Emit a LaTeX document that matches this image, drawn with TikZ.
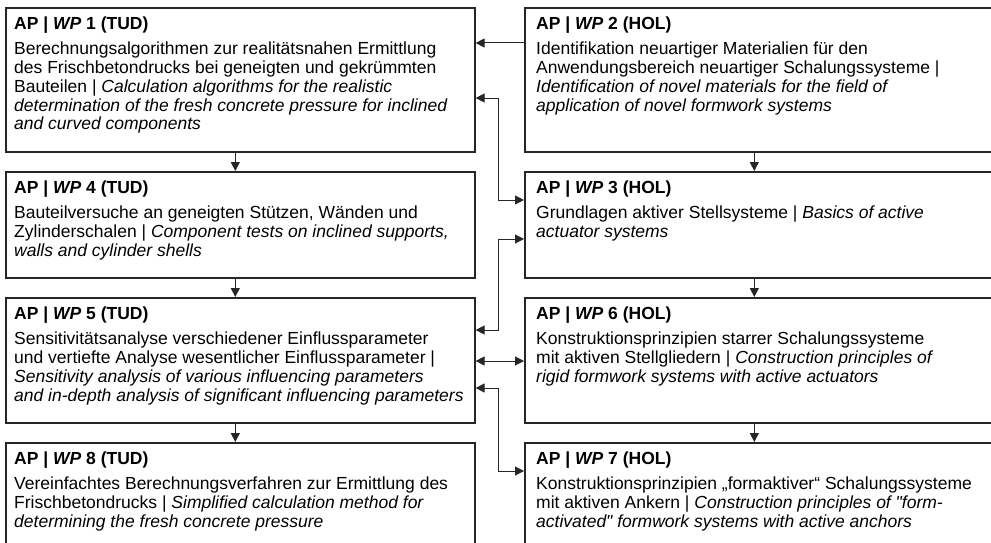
\documentclass[tikz,border=0pt]{standalone}
\usepackage{fontspec}
\setmainfont{Liberation Sans}[Ligatures=TeXOff]
\usetikzlibrary{arrows.meta, calc, positioning}
\tikzset{
  wpbox/.style={
    rectangle, draw=black!85, line width=1.6pt, anchor=north west,
    minimum width=469pt, inner sep=0pt
  },
  wptext/.style={
    anchor=north west, align=left, inner sep=0pt, text=black,
    font=\fontsize{17.5}{18.8}\selectfont
  },
  arrow/.style={
    -{Triangle[length=9pt,width=9pt]}, line width=1pt, color=black!85
  },
  both/.style={
    {Triangle[length=9pt,width=9pt]}-{Triangle[length=9pt,width=9pt]},
    line width=1pt, color=black!85
  }
}
\newcommand{\wptitle}[2]{\textbf{AP | \textit{WP} #1 (#2)}\\[6pt]}

\begin{document}
\begin{tikzpicture}[x=1pt, y=-1pt]
  \useasboundingbox (0,0) rectangle (991,543);
  \clip (0,0) rectangle (991,543);

  % Work package boxes, left column (TUD)
  \node[wpbox, minimum height=144pt] (wp1) at (5,7) {};
  \node[wpbox, minimum height=106pt] (wp4) at (5,171) {};
  \node[wpbox, minimum height=125pt] (wp5) at (5,297) {};
  \node[wpbox, minimum height=130pt] (wp8) at (5,442) {};

  % Work package boxes, right column (HOL)
  \node[wpbox, minimum height=144pt] (wp2) at (524,7) {};
  \node[wpbox, minimum height=106pt] (wp3) at (524,171) {};
  \node[wpbox, minimum height=125pt] (wp6) at (524,297) {};
  \node[wpbox, minimum height=130pt] (wp7) at (524,442) {};

  % Texts
  \node[wptext] (wp1t) at ([shift={(9pt,-10pt)}]wp1.north west) {\wptitle{1}{TUD}
    Berechnungsalgorithmen zur realitätsnahen Ermittlung\\
    des Frischbetondrucks bei geneigten und gekrümmten\\
    Bauteilen | \textit{Calculation algorithms for the realistic}\\
    \textit{determination of the fresh concrete pressure for inclined}\\
    \textit{and curved components}};
  \node[wptext] (wp2t) at ([shift={(12pt,-10pt)}]wp2.north west) {\wptitle{2}{HOL}
    Identifikation neuartiger Materialien für den\\
    Anwendungsbereich neuartiger Schalungssysteme |\\
    \textit{Identification of novel materials for the field of}\\
    \textit{application of novel formwork systems}};
  \node[wptext] (wp4t) at ([shift={(9pt,-10pt)}]wp4.north west) {\wptitle{4}{TUD}
    Bauteilversuche an geneigten Stützen, Wänden und\\
    Zylinderschalen | \textit{Component tests on inclined supports,}\\
    \textit{walls and cylinder shells}};
  \node[wptext] (wp3t) at ([shift={(12pt,-10pt)}]wp3.north west) {\wptitle{3}{HOL}
    Grundlagen aktiver Stellsysteme | \textit{Basics of active}\\
    \textit{actuator systems}};
  \node[wptext] (wp5t) at ([shift={(9pt,-10pt)}]wp5.north west) {\wptitle{5}{TUD}
    Sensitivitätsanalyse verschiedener Einflussparameter\\
    und vertiefte Analyse wesentlicher Einflussparameter |\\
    \textit{Sensitivity analysis of various influencing parameters}\\
    \textit{and in-depth analysis of significant influencing parameters}};
  \node[wptext] (wp6t) at ([shift={(12pt,-10pt)}]wp6.north west) {\wptitle{6}{HOL}
    Konstruktionsprinzipien starrer Schalungssysteme\\
    mit aktiven Stellgliedern | \textit{Construction principles of}\\
    \textit{rigid formwork systems with active actuators}};
  \node[wptext] (wp8t) at ([shift={(9pt,-10pt)}]wp8.north west) {\wptitle{8}{TUD}
    Vereinfachtes Berechnungsverfahren zur Ermittlung des\\
    Frischbetondrucks | \textit{Simplified calculation method for}\\
    \textit{determining the fresh concrete pressure}};
  \node[wptext] (wp7t) at ([shift={(12pt,-10pt)}]wp7.north west) {\wptitle{7}{HOL}
    Konstruktionsprinzipien „formaktiver“ Schalungssysteme\\
    mit aktiven Ankern | \textit{Construction principles of "form-}\\
    \textit{activated" formwork systems with active anchors}};

  % Flow down each column
  \draw[arrow] ([xshift=-5pt]wp1.south) -- ([xshift=-5pt]wp4.north);
  \draw[arrow] ([xshift=-5pt]wp4.south) -- ([xshift=-5pt]wp5.north);
  \draw[arrow] ([xshift=-5pt]wp5.south) -- ([xshift=-5pt]wp8.north);
  \draw[arrow] ([xshift=-5pt]wp2.south) -- ([xshift=-5pt]wp3.north);
  \draw[arrow] ([xshift=-5pt]wp3.south) -- ([xshift=-5pt]wp6.north);
  \draw[arrow] ([xshift=-5pt]wp6.south) -- ([xshift=-5pt]wp7.north);

  % Links between the columns
  \coordinate (bus) at (498,0);
  \draw[arrow] (wp2.west |- 0,43) -- (wp1.east |- 0,43);
  \draw[both] (wp1.east |- 0,98) -- (bus |- 0,98) |- (wp3.west |- 0,200);
  \draw[both] (wp5.east |- 0,330) -- (bus |- 0,330) |- (wp3.west |- 0,239);
  \draw[both] (wp5.east |- 0,361) -- (wp6.west |- 0,361);
  \draw[both] (wp5.east |- 0,388) -- (bus |- 0,388) |- (wp7.west |- 0,471);
\end{tikzpicture}
\end{document}
